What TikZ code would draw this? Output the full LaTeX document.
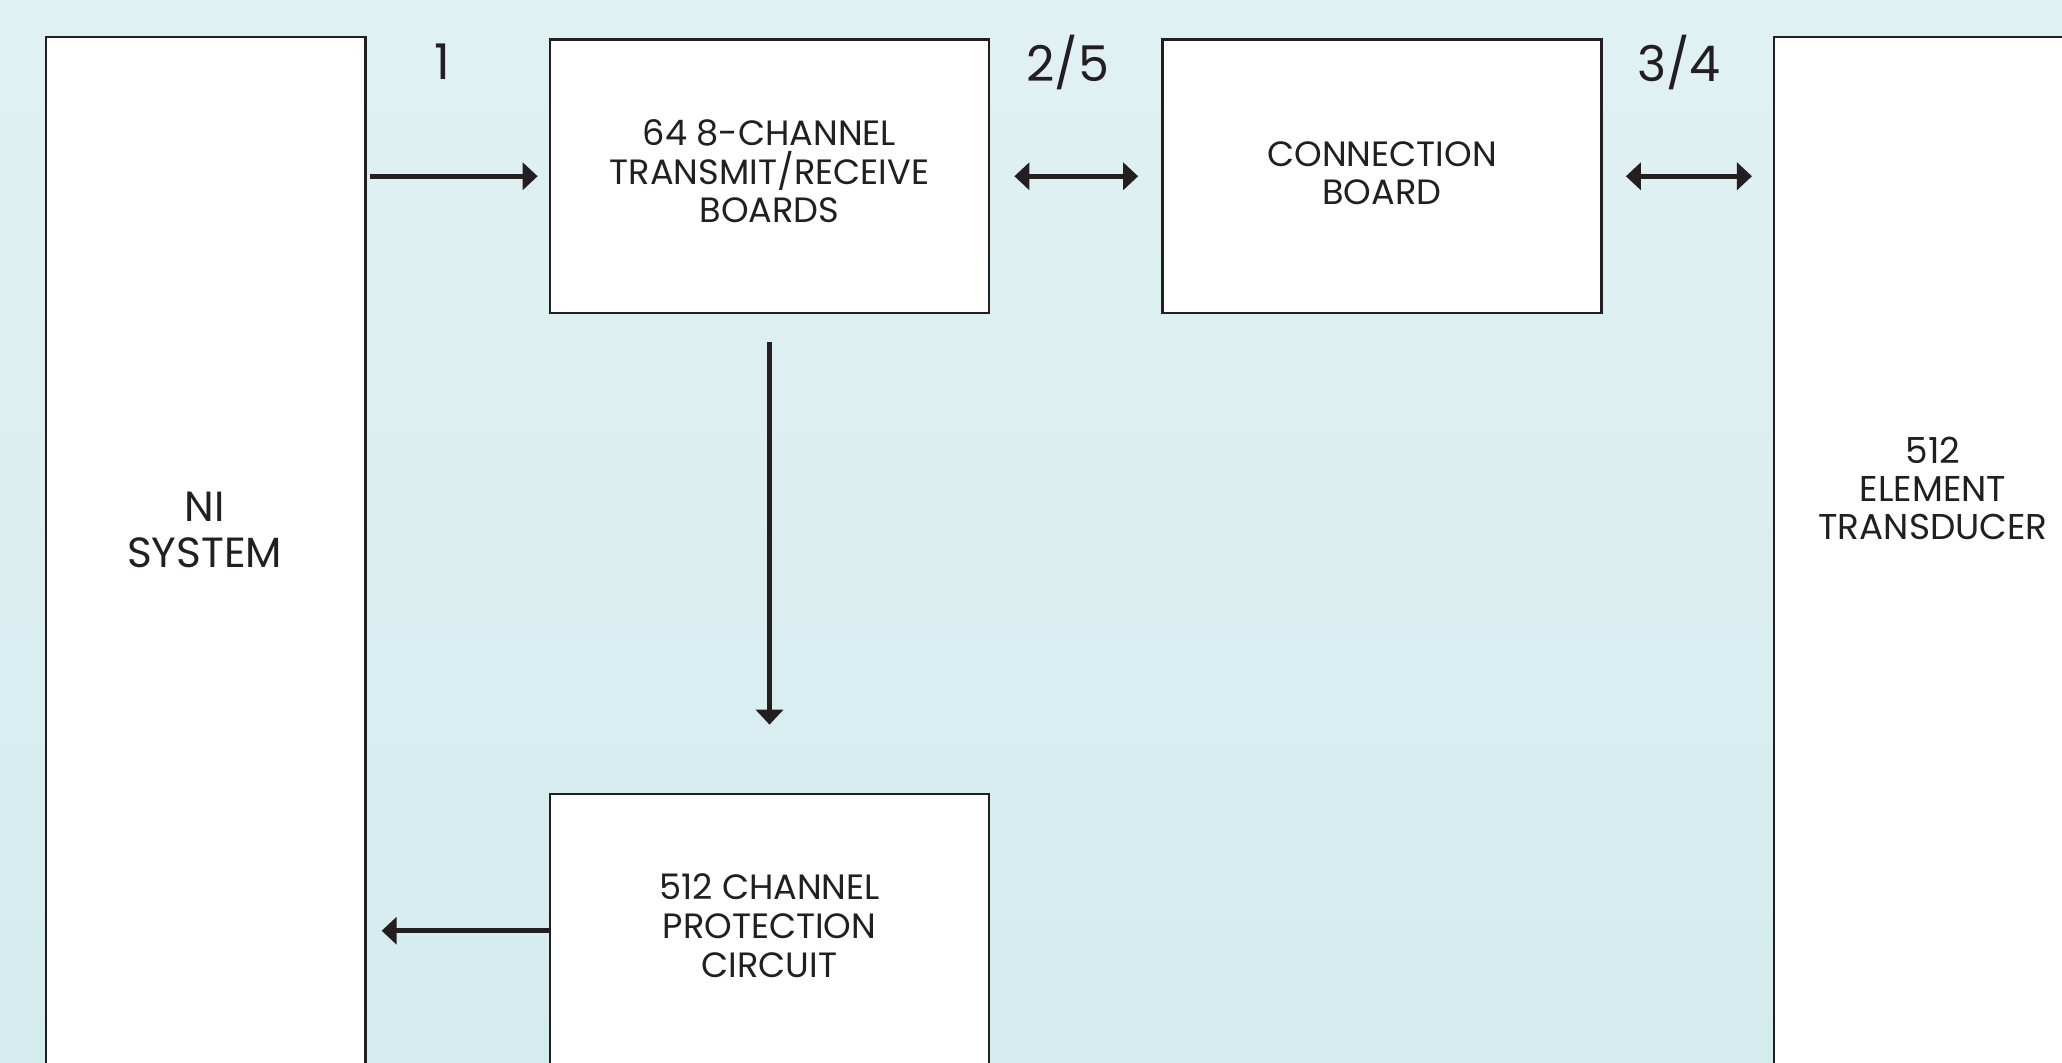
\documentclass[tikz,border=0pt]{standalone}
\usepackage{fontspec}
\setmainfont{Poppins}
\usetikzlibrary{arrows.meta,calc}
\definecolor{ink}{RGB}{35,31,32}
\definecolor{bgtop}{RGB}{224,241,243}
\definecolor{bgbot}{RGB}{213,236,238}

\begin{document}
\begin{tikzpicture}[x=0.01cm,y=0.01cm,
    every node/.style={text=ink, align=center},
    box/.style={draw=ink, fill=white, line width=0.7pt, inner sep=0pt,
      minimum width=4.39cm, minimum height=2.735cm},
    boxtxt/.style={font=\fontsize{10}{11}\selectfont},
    tallbox/.style={draw=ink, fill=white, line width=0.7pt, inner sep=0pt,
      anchor=north west, minimum width=3.19cm, minimum height=11cm},
    conn/.style={draw=ink, line width=1.3pt, -{Triangle[length=0.15cm,width=0.27cm]}},
    both/.style={conn, {Triangle[length=0.15cm,width=0.27cm]}-{Triangle[length=0.15cm,width=0.27cm]}},
    num/.style={font=\fontsize{14}{16}\selectfont}]
  \useasboundingbox (0,0) rectangle (2062,1062);
  \clip (0,0) rectangle (2062,1062);
  \shade[top color=bgtop, bottom color=bgbot] (0,0) rectangle (2062,1062);

  \node[tallbox] (ni) at (45,1026) {};
  \node[font=\fontsize{12}{13}\selectfont] (nitxt) at (204.5,532) {NI\\SYSTEM};
  \node[tallbox] (tr) at (1773,1026) {};
  \node[font=\fontsize{10.2}{10.8}\selectfont] (trtxt) at (1933,574) {512\\ELEMENT\\TRANSDUCER};

  \node[box] (trx) at (769.5,885.75) {};
  \node[boxtxt] (trxtxt) at ([yshift=0.05cm]trx.center) {64 8-CHANNEL\\TRANSMIT/RECEIVE\\BOARDS};
  \node[box] (cb) at (1382,885.75) {};
  \node[boxtxt] (cbtxt) at ([yshift=0.03cm]cb.center) {CONNECTION\\BOARD};
  \node[box] (pc) at (769.5,131.25) {};
  \node[boxtxt] (pctxt) at ([yshift=0.05cm]pc.center) {512 CHANNEL\\PROTECTION\\CIRCUIT};

  \node[num] (n1) at (442,1000) {1};
  \node[num] (n25) at (1068,1000) {2/5};
  \node[num] (n34) at (1679,1000) {3/4};

  \draw[conn, shorten <=0.03cm, shorten >=0.11cm] (ni.east |- trx.west) -- (trx.west);
  \draw[both, shorten <=0.24cm, shorten >=0.23cm] (trx.east) -- (cb.west);
  \draw[both, shorten <=0.23cm, shorten >=0.21cm] (cb.east) -- (tr.west |- cb.east);
  \draw[conn, shorten <=0.28cm, shorten >=0.68cm] (trx.south) -- (pc.north);
  \draw[conn, shorten >=0.15cm] (pc.west) -- (ni.east |- pc.west);
\end{tikzpicture}
\end{document}
